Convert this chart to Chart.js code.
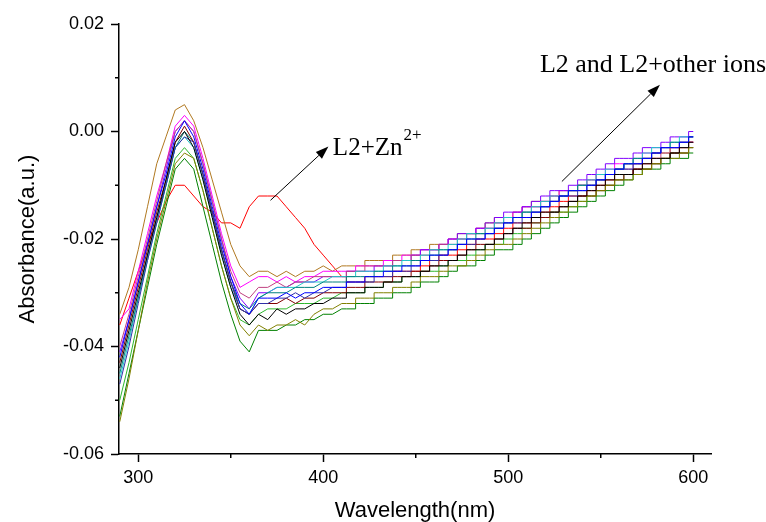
<!DOCTYPE html>
<html>
<head>
<meta charset="utf-8">
<script src="https://cdn.jsdelivr.net/npm/chart.js@4.4.1/dist/chart.umd.min.js"></script>
<style>
html,body{margin:0;padding:0;background:#fff;}
canvas{display:block;}
</style>
</head>
<body>
<canvas id="c" width="766" height="522"></canvas>
<script>
// ---- DATA (absorbance vs wavelength) ----
const wavelength = [290,295,300,305,310,315,320,325,330,335,340,345,350,355,360,365,370,375,380,385,390,395,400,405,410,415,420,425,430,435,440,445,450,455,460,465,470,475,480,485,490,495,500,505,510,515,520,525,530,535,540,545,550,555,560,565,570,575,580,585,590,595,600];

const sBlack = [-0.044,-0.037,-0.030,-0.023,-0.016,-0.009,-0.002,0.000,-0.003,-0.009,
 -0.016,-0.023,-0.029,-0.034,-0.036,-0.034,-0.035,-0.033,-0.034,-0.033,
 -0.033,-0.032,-0.032,-0.031,-0.031,-0.030,-0.030,-0.029,-0.029,-0.028,
 -0.028,-0.027,-0.027,-0.026,-0.025,-0.025,-0.024,-0.023,-0.022,-0.022,
 -0.021,-0.020,-0.019,-0.018,-0.017,-0.016,-0.015,-0.015,-0.014,-0.013,
 -0.012,-0.011,-0.010,-0.009,-0.008,-0.008,-0.007,-0.006,-0.005,-0.005,
 -0.004,-0.003,-0.002];
const sZn = [-0.036,-0.031,-0.026,-0.021,-0.017,-0.013,-0.010,-0.010,-0.012,-0.014,
 -0.015,-0.017,-0.017,-0.018,-0.014,-0.012,-0.012,-0.012,-0.014,-0.016,
 -0.018,-0.021,-0.023,-0.025,-0.027,-0.028,-0.028,-0.027,-0.027,-0.027,
 -0.026,-0.026,-0.026,-0.025,-0.024,-0.023,-0.023,-0.022,-0.021,-0.020,
 -0.020,-0.019,-0.018,-0.017,-0.017,-0.016,-0.015,-0.014,-0.013,-0.012,
 -0.012,-0.011,-0.010,-0.009,-0.008,-0.008,-0.007,-0.006,-0.005,-0.005,
 -0.004,-0.003,-0.002];
const sBlue = [-0.042,-0.035,-0.028,-0.021,-0.014,-0.008,-0.001,0.002,-0.001,-0.007,
 -0.014,-0.021,-0.027,-0.032,-0.034,-0.031,-0.031,-0.031,-0.030,-0.031,
 -0.030,-0.030,-0.029,-0.029,-0.029,-0.028,-0.028,-0.027,-0.027,-0.026,
 -0.026,-0.025,-0.025,-0.024,-0.023,-0.023,-0.022,-0.021,-0.020,-0.020,
 -0.019,-0.018,-0.017,-0.016,-0.016,-0.015,-0.014,-0.013,-0.012,-0.011,
 -0.011,-0.010,-0.009,-0.008,-0.007,-0.006,-0.006,-0.005,-0.004,-0.003,
 -0.003,-0.002,-0.001];
const sMagenta = [-0.035,-0.033,-0.026,-0.019,-0.012,-0.006,0.001,0.003,0.001,-0.005,
 -0.012,-0.019,-0.025,-0.029,-0.028,-0.027,-0.027,-0.028,-0.027,-0.028,
 -0.027,-0.027,-0.026,-0.026,-0.026,-0.026,-0.025,-0.025,-0.025,-0.024,
 -0.024,-0.023,-0.023,-0.022,-0.022,-0.021,-0.020,-0.020,-0.019,-0.018,
 -0.018,-0.017,-0.016,-0.015,-0.014,-0.014,-0.013,-0.012,-0.011,-0.011,
 -0.010,-0.009,-0.008,-0.007,-0.006,-0.006,-0.005,-0.004,-0.004,-0.003,
 -0.003,-0.002,-0.002];
const sOlive = [-0.054,-0.046,-0.037,-0.028,-0.020,-0.013,-0.006,-0.004,-0.005,-0.011,
 -0.018,-0.025,-0.031,-0.036,-0.038,-0.036,-0.037,-0.036,-0.036,-0.035,
 -0.036,-0.034,-0.033,-0.033,-0.032,-0.032,-0.031,-0.031,-0.030,-0.030,
 -0.029,-0.029,-0.028,-0.027,-0.027,-0.026,-0.025,-0.025,-0.024,-0.023,
 -0.022,-0.021,-0.021,-0.020,-0.019,-0.018,-0.017,-0.016,-0.015,-0.014,
 -0.013,-0.012,-0.011,-0.010,-0.009,-0.009,-0.008,-0.007,-0.006,-0.005,
 -0.005,-0.004,-0.003];
const sNavy = [-0.047,-0.040,-0.032,-0.024,-0.017,-0.010,-0.003,-0.001,-0.002,-0.008,
 -0.015,-0.022,-0.028,-0.033,-0.034,-0.032,-0.032,-0.031,-0.031,-0.030,
 -0.031,-0.030,-0.030,-0.029,-0.029,-0.028,-0.028,-0.028,-0.027,-0.027,
 -0.026,-0.026,-0.025,-0.024,-0.024,-0.023,-0.022,-0.021,-0.021,-0.020,
 -0.019,-0.018,-0.017,-0.017,-0.016,-0.015,-0.014,-0.013,-0.012,-0.012,
 -0.011,-0.010,-0.009,-0.008,-0.007,-0.007,-0.006,-0.005,-0.004,-0.003,
 -0.003,-0.002,-0.001];
const sViolet = [-0.041,-0.035,-0.028,-0.021,-0.014,-0.007,0.000,0.002,0.000,-0.006,
 -0.013,-0.020,-0.027,-0.031,-0.033,-0.030,-0.030,-0.029,-0.029,-0.028,
 -0.028,-0.028,-0.027,-0.027,-0.027,-0.026,-0.026,-0.026,-0.025,-0.025,
 -0.024,-0.024,-0.023,-0.022,-0.022,-0.021,-0.020,-0.019,-0.019,-0.018,
 -0.017,-0.016,-0.015,-0.015,-0.014,-0.013,-0.012,-0.011,-0.011,-0.010,
 -0.009,-0.008,-0.007,-0.006,-0.005,-0.005,-0.004,-0.003,-0.003,-0.002,
 -0.001,-0.001,0.000];
const sWine = [-0.043,-0.036,-0.029,-0.022,-0.015,-0.009,-0.002,0.001,-0.002,-0.008,
 -0.015,-0.022,-0.028,-0.033,-0.034,-0.032,-0.032,-0.032,-0.031,-0.032,
 -0.031,-0.031,-0.030,-0.030,-0.030,-0.029,-0.029,-0.028,-0.028,-0.028,
 -0.027,-0.027,-0.026,-0.026,-0.025,-0.024,-0.024,-0.023,-0.022,-0.021,
 -0.021,-0.020,-0.019,-0.018,-0.018,-0.017,-0.016,-0.015,-0.014,-0.013,
 -0.012,-0.012,-0.011,-0.010,-0.009,-0.008,-0.007,-0.007,-0.006,-0.005,
 -0.004,-0.004,-0.003];
const sTeal = [-0.045,-0.038,-0.031,-0.023,-0.016,-0.010,-0.003,0.000,-0.002,-0.008,
 -0.015,-0.022,-0.028,-0.032,-0.033,-0.031,-0.030,-0.030,-0.030,-0.029,
 -0.029,-0.029,-0.028,-0.028,-0.028,-0.027,-0.027,-0.027,-0.026,-0.026,
 -0.025,-0.025,-0.024,-0.024,-0.023,-0.022,-0.022,-0.021,-0.020,-0.019,
 -0.019,-0.018,-0.017,-0.016,-0.015,-0.015,-0.014,-0.013,-0.012,-0.011,
 -0.010,-0.010,-0.009,-0.008,-0.007,-0.006,-0.005,-0.005,-0.004,-0.003,
 -0.002,-0.002,-0.001];
const sCyan = [-0.046,-0.039,-0.031,-0.024,-0.017,-0.010,-0.003,-0.001,-0.003,-0.009,
 -0.016,-0.023,-0.029,-0.033,-0.034,-0.031,-0.030,-0.029,-0.029,-0.029,
 -0.028,-0.028,-0.028,-0.027,-0.027,-0.027,-0.026,-0.026,-0.026,-0.025,
 -0.025,-0.024,-0.024,-0.023,-0.022,-0.022,-0.021,-0.020,-0.019,-0.019,
 -0.018,-0.017,-0.016,-0.016,-0.015,-0.014,-0.013,-0.012,-0.012,-0.011,
 -0.010,-0.009,-0.008,-0.007,-0.007,-0.006,-0.005,-0.004,-0.003,-0.003,
 -0.002,-0.001,-0.001];
const sDarkGreen = [-0.053,-0.045,-0.037,-0.029,-0.021,-0.014,-0.007,-0.005,-0.007,-0.014,
 -0.021,-0.028,-0.034,-0.039,-0.041,-0.037,-0.037,-0.037,-0.036,-0.036,
 -0.035,-0.035,-0.034,-0.034,-0.033,-0.033,-0.032,-0.032,-0.031,-0.031,
 -0.030,-0.030,-0.029,-0.028,-0.028,-0.027,-0.026,-0.025,-0.025,-0.024,
 -0.023,-0.022,-0.022,-0.021,-0.020,-0.019,-0.018,-0.017,-0.016,-0.015,
 -0.014,-0.013,-0.012,-0.011,-0.010,-0.009,-0.008,-0.007,-0.007,-0.006,
 -0.005,-0.005,-0.004];
const sGreen = [-0.050,-0.043,-0.035,-0.027,-0.019,-0.012,-0.005,-0.003,-0.005,-0.011,
 -0.018,-0.025,-0.031,-0.035,-0.036,-0.034,-0.033,-0.033,-0.033,-0.032,
 -0.032,-0.032,-0.031,-0.031,-0.030,-0.030,-0.030,-0.029,-0.029,-0.028,
 -0.028,-0.027,-0.027,-0.026,-0.026,-0.025,-0.024,-0.024,-0.023,-0.022,
 -0.021,-0.021,-0.020,-0.019,-0.018,-0.017,-0.016,-0.015,-0.015,-0.014,
 -0.013,-0.012,-0.011,-0.010,-0.009,-0.008,-0.008,-0.007,-0.006,-0.005,
 -0.004,-0.004,-0.003];
const sBrown = [-0.034,-0.029,-0.022,-0.014,-0.006,-0.001,0.004,0.005,0.002,-0.003,
 -0.009,-0.015,-0.021,-0.025,-0.027,-0.026,-0.026,-0.027,-0.026,-0.027,
 -0.026,-0.026,-0.025,-0.026,-0.025,-0.025,-0.025,-0.024,-0.024,-0.024,
 -0.023,-0.023,-0.022,-0.022,-0.021,-0.021,-0.020,-0.019,-0.019,-0.018,
 -0.017,-0.016,-0.016,-0.015,-0.014,-0.013,-0.013,-0.012,-0.011,-0.011,
 -0.010,-0.009,-0.008,-0.008,-0.007,-0.006,-0.006,-0.005,-0.004,-0.004,
 -0.003,-0.003,-0.002];
const sPink = [-0.040,-0.034,-0.027,-0.020,-0.013,-0.006,0.000,0.002,0.000,-0.006,
 -0.013,-0.020,-0.026,-0.030,-0.031,-0.029,-0.029,-0.028,-0.029,-0.028,
 -0.028,-0.027,-0.027,-0.027,-0.027,-0.026,-0.026,-0.025,-0.025,-0.025,
 -0.024,-0.024,-0.023,-0.023,-0.022,-0.021,-0.021,-0.020,-0.019,-0.019,
 -0.018,-0.017,-0.016,-0.016,-0.015,-0.014,-0.013,-0.013,-0.012,-0.011,
 -0.010,-0.010,-0.009,-0.008,-0.007,-0.007,-0.006,-0.005,-0.005,-0.004,
 -0.003,-0.003,-0.002];

const xTickValues = [300, 400, 500, 600];
const xMinorTicks = [350, 450, 550];
const yTickValues = [-0.06, -0.04, -0.02, 0.00, 0.02];
const yMinorTicks = [-0.05, -0.03, -0.01, 0.01];

// ---- STYLE ----
const seriesList = [
  {name:'black',  values:sBlack,    color:'#000000'},
  {name:'blue',   values:sBlue,     color:'#0000FF'},
  {name:'olive',  values:sOlive,    color:'#808000'},
  {name:'navy',   values:sNavy,     color:'#3030A8'},
  {name:'wine',   values:sWine,     color:'#800000'},
  {name:'teal',   values:sTeal,     color:'#008080'},
  {name:'cyan',   values:sCyan,     color:'#20C8C8'},
  {name:'green',  values:sGreen,    color:'#2EB82E'},
  {name:'dgreen', values:sDarkGreen,color:'#008000'},
  {name:'pink',   values:sPink,     color:'#C04080'},
  {name:'violet', values:sViolet,   color:'#8000FF'},
  {name:'magenta',values:sMagenta,  color:'#FF00FF'},
  {name:'brown',  values:sBrown,    color:'#B07820'},
  {name:'zn',     values:sZn,       color:'#FF0000'}
];
const splitIndex = 24; // 410 nm: smooth part before, staircase part after

const datasets = [];
seriesList.forEach(s => {
  const pts = wavelength.map((w, i) => ({x: w, y: s.values[i]}));
  datasets.push({data: pts.slice(0, splitIndex + 1), borderColor: s.color, borderWidth: 1,
    pointRadius: 0, tension: 0, fill: false});
  datasets.push({data: pts.slice(splitIndex), borderColor: s.color, borderWidth: 1,
    pointRadius: 0, tension: 0, fill: false, stepped: 'middle'});
});

const annotations = {
  arrows: [
    {from: [371.5, -0.0128], to: [402.8, -0.0028]},
    {from: [529.0, -0.0093], to: [582.0, 0.0087]}
  ],
  texts: [
    {at: [405.2, -0.0043], text: 'L2+Zn', sup: '2+', size: 25},
    {at: [517.1, 0.0111], text: 'L2 and L2+other ions', size: 26}
  ]
};

const minorTicksPlugin = {
  id: 'minorTicks',
  afterDraw(chart) {
    const {ctx, scales: {x, y}, chartArea} = chart;
    ctx.save();
    ctx.strokeStyle = '#000';
    ctx.lineWidth = 1.5;
    xMinorTicks.forEach(v => {
      const px = x.getPixelForValue(v);
      ctx.beginPath(); ctx.moveTo(px, chartArea.bottom); ctx.lineTo(px, chartArea.bottom + 4); ctx.stroke();
    });
    yMinorTicks.forEach(v => {
      const py = y.getPixelForValue(v);
      ctx.beginPath(); ctx.moveTo(chartArea.left - 4, py); ctx.lineTo(chartArea.left, py); ctx.stroke();
    });
    ctx.restore();
  }
};

const annotationPlugin = {
  id: 'annot',
  afterDraw(chart) {
    const {ctx, scales: {x, y}} = chart;
    ctx.save();
    ctx.strokeStyle = '#000';
    ctx.fillStyle = '#000';
    ctx.lineWidth = 1;
    annotations.arrows.forEach(a => {
      const x1 = x.getPixelForValue(a.from[0]), y1 = y.getPixelForValue(a.from[1]);
      const x2 = x.getPixelForValue(a.to[0]), y2 = y.getPixelForValue(a.to[1]);
      const ang = Math.atan2(y2 - y1, x2 - x1);
      const L = 13, W = 4.5;
      const bx = x2 - L * Math.cos(ang), by = y2 - L * Math.sin(ang);
      ctx.beginPath(); ctx.moveTo(x1, y1); ctx.lineTo(bx, by); ctx.stroke();
      ctx.beginPath();
      ctx.moveTo(x2, y2);
      ctx.lineTo(bx + W * Math.sin(ang), by - W * Math.cos(ang));
      ctx.lineTo(bx - W * Math.sin(ang), by + W * Math.cos(ang));
      ctx.closePath(); ctx.fill();
    });
    ctx.textBaseline = 'alphabetic';
    ctx.textAlign = 'left';
    annotations.texts.forEach(t => {
      const px = x.getPixelForValue(t.at[0]), py = y.getPixelForValue(t.at[1]);
      ctx.font = t.size + 'px "Liberation Serif", "Times New Roman", serif';
      ctx.fillText(t.text, px, py);
      if (t.sup) {
        const w = ctx.measureText(t.text).width;
        ctx.font = '17px "Liberation Serif", "Times New Roman", serif';
        ctx.fillText(t.sup, px + w + 1, py - 15);
      }
    });
    ctx.restore();
  }
};

const tickFont = {family: '"Liberation Sans", Arial, sans-serif', size: 18};
const titleFont = {family: '"Liberation Sans", Arial, sans-serif', size: 22, lineHeight: 1};

new Chart(document.getElementById('c'), {
  type: 'line',
  data: {datasets},
  options: {
    responsive: false,
    animation: false,
    layout: {padding: {left: 0, right: 55, top: 24, bottom: 0}},
    plugins: {legend: {display: false}, tooltip: {enabled: false}},
    scales: {
      x: {
        type: 'linear', min: 289.6, max: 609.6,
        afterBuildTicks: s => { s.ticks = xTickValues.map(v => ({value: v})); },
        afterFit: s => { s.height = 68; },
        ticks: {font: tickFont, color: '#000', padding: 5, maxRotation: 0, autoSkip: false,
          callback: v => String(v)},
        grid: {drawOnChartArea: false, drawTicks: true, tickLength: 8, tickWidth: 1.5, tickColor: '#000'},
        border: {display: true, color: '#000', width: 1.5},
        title: {display: true, text: 'Wavelength(nm)', font: titleFont, color: '#000', padding: {top: 0, bottom: 0}}
      },
      y: {
        type: 'linear', min: -0.06, max: 0.02,
        afterBuildTicks: s => { s.ticks = yTickValues.map(v => ({value: v})); },
        afterFit: s => { s.width = 119; },
        ticks: {font: tickFont, color: '#000', padding: 7, autoSkip: false,
          callback: v => Number(v).toFixed(2)},
        grid: {drawOnChartArea: false, drawTicks: true, tickLength: 8, tickWidth: 1.5, tickColor: '#000'},
        border: {display: true, color: '#000', width: 1.5},
        title: {display: true, text: 'Absorbance(a.u.)', font: titleFont, color: '#000', padding: {top: 17, bottom: 0}}
      }
    }
  },
  plugins: [minorTicksPlugin, annotationPlugin]
});
</script>
</body>
</html>
